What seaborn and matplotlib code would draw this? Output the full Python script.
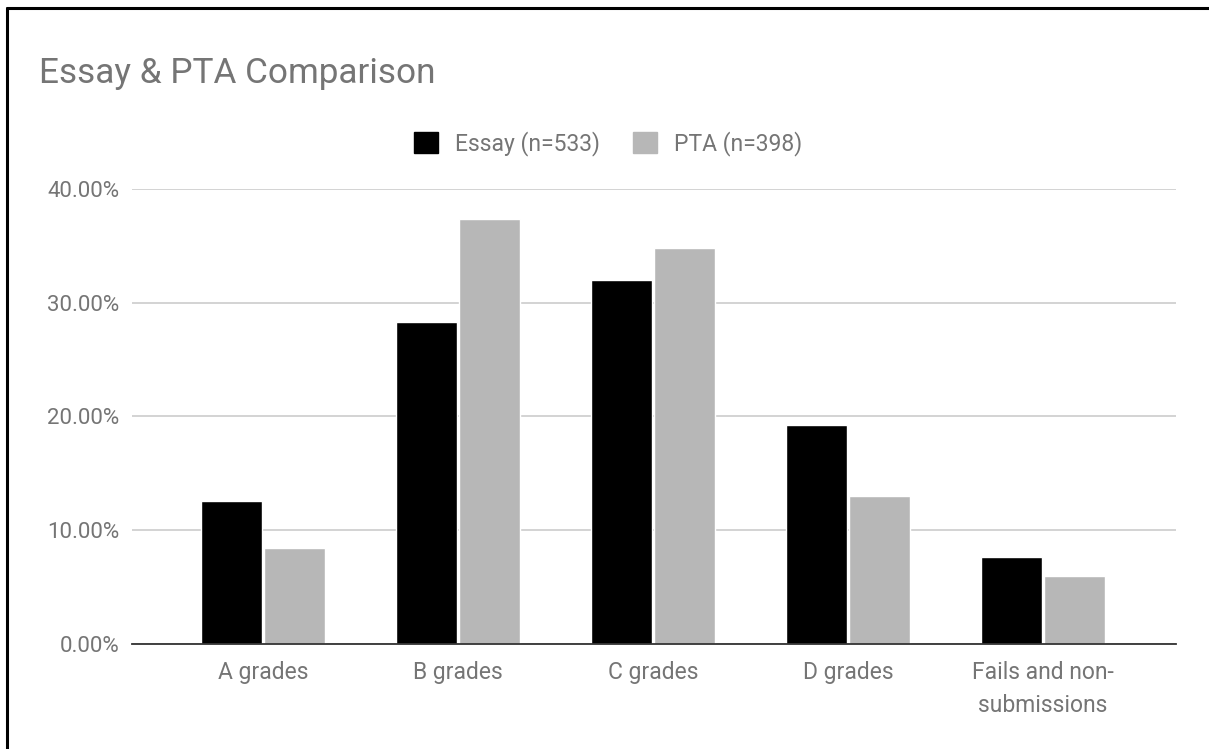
import pandas as pd
import seaborn as sns
import matplotlib.pyplot as plt
from matplotlib.lines import Line2D
from matplotlib.ticker import FuncFormatter

categories = ['A grades', 'B grades', 'C grades', 'D grades', 'Fails and non-\nsubmissions']
essay = [12.54, 28.3, 32.0, 19.28, 7.62]
pta = [8.47, 37.33, 34.84, 13.04, 6.0]
series = ['Essay (n=533)', 'PTA (n=398)']
colors = ['#000000', '#b7b7b7']
yticks = [0, 10, 20, 30, 40]

df = pd.DataFrame({
    'grade': categories * 2,
    'pct': essay + pta,
    'group': [series[0]] * len(categories) + [series[1]] * len(categories),
})

sns.set_style('white')
plt.rcParams['font.family'] = ['Roboto', 'DejaVu Sans']
grey = '#757575'

fig = plt.figure(figsize=(12.09, 7.49), dpi=100)
ax = fig.add_axes([0.1092, 0.1402, 0.8635, 0.6075])

sns.barplot(data=df, x='grade', y='pct', hue='group', palette=colors,
            width=0.646, gap=0.03, saturation=1, ax=ax, legend=False)

ax.set_ylim(0, 40)
ax.set_xlim(-0.672, 4.682)
ax.set_yticks(yticks)
ax.yaxis.set_major_formatter(FuncFormatter(lambda v, p: f'{v:.2f}%'))
ax.grid(axis='y', color='#cccccc', linewidth=1.2)
ax.set_axisbelow(True)
for s in ['top', 'right', 'left']:
    ax.spines[s].set_visible(False)
ax.spines['bottom'].set_color('#333333')
ax.spines['bottom'].set_linewidth(1.3)
ax.tick_params(axis='both', length=0, labelsize=16, labelcolor=grey)
ax.tick_params(axis='y', pad=9)
ax.tick_params(axis='x', pad=12)
for t in ax.get_xticklabels():
    t.set_fontsize(16.5)
    t.set_linespacing(1.6)
    t.set_verticalalignment('top')
ax.set_xlabel('')
ax.set_ylabel('')

handles = [plt.Rectangle((0, 0), 1, 1, color=c) for c in colors]
fig.legend(handles, series, loc='center', bbox_to_anchor=(0.503, 0.809), ncol=2,
           frameon=False, fontsize=16.5, labelcolor=grey, handlelength=1.05,
           handleheight=1.05, handletextpad=0.78, columnspacing=1.4)

fig.text(39 / 1209, 1 - 82.5 / 749, 'Essay & PTA Comparison', fontsize=25.3,
         color=grey, ha='left', va='baseline')

# screenshot frame on top and left
fig.add_artist(Line2D([6.5 / 1209, 1], [1 - 8.3 / 749] * 2, color='black', lw=2.2,
                      transform=fig.transFigure))
fig.add_artist(Line2D([6.5 / 1209] * 2, [0, 1 - 8.3 / 749], color='black', lw=2.2,
                      transform=fig.transFigure))

fig.savefig('out.png', dpi=100)
